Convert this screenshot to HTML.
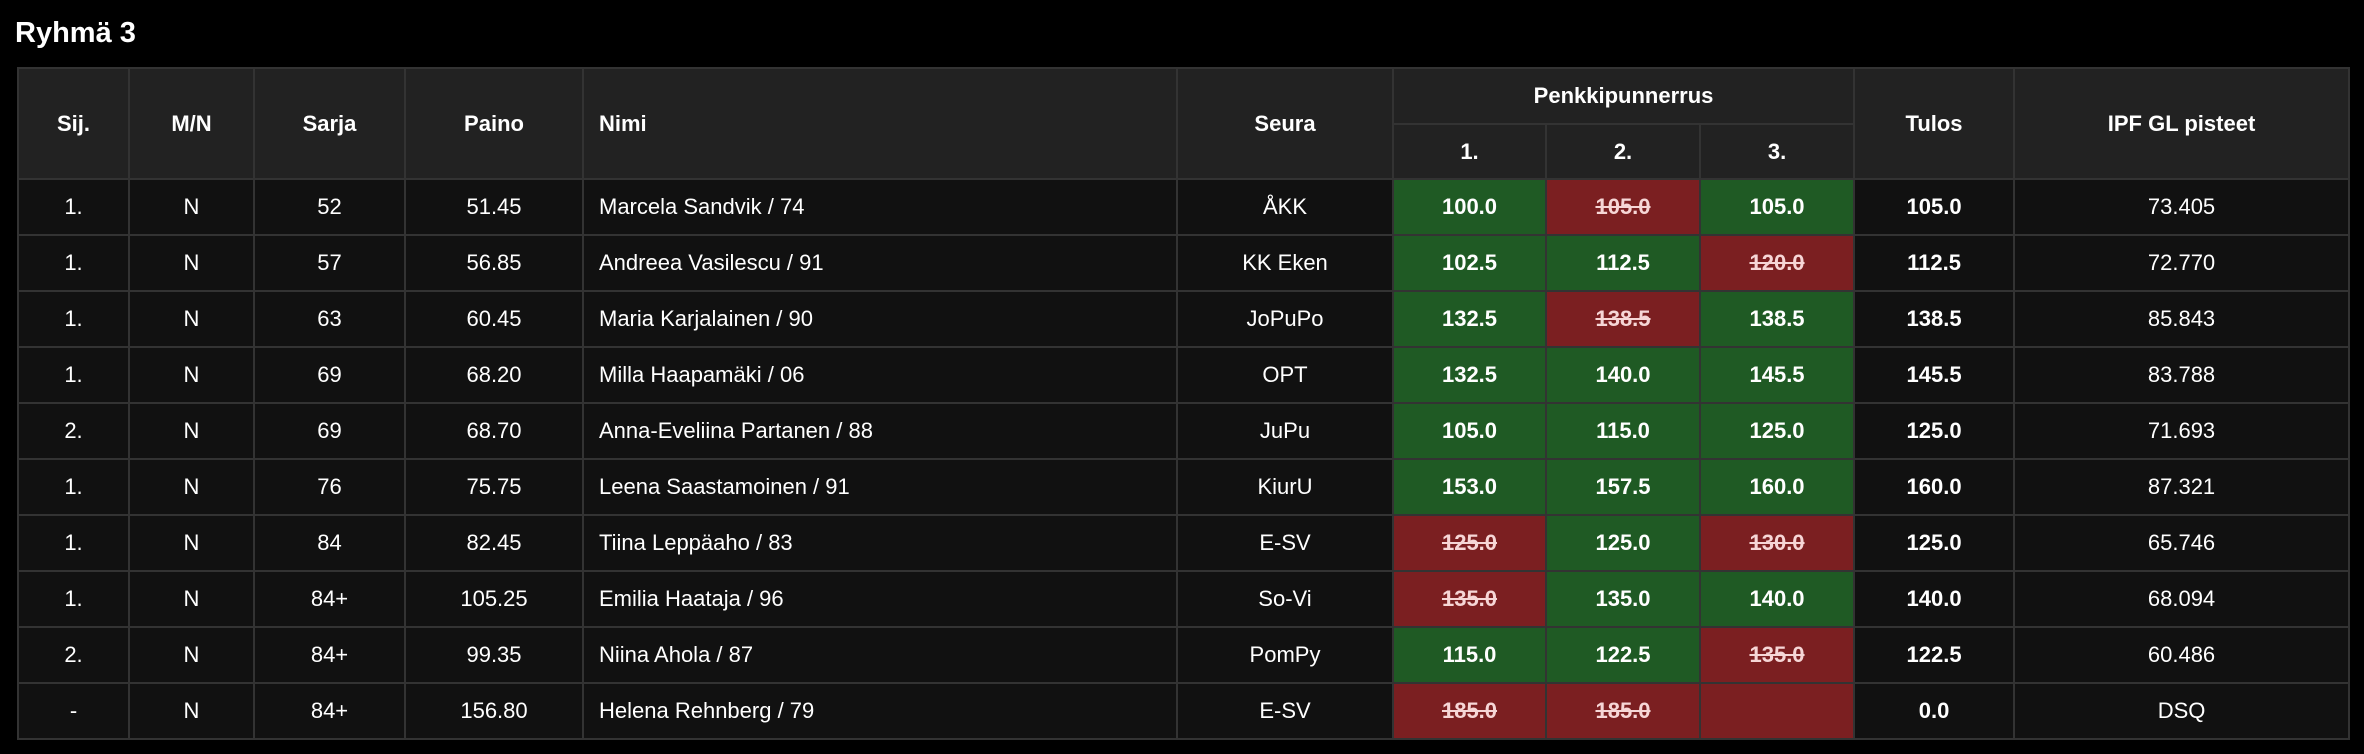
<!DOCTYPE html>
<html><head><meta charset="utf-8"><style>
html,body{margin:0;padding:0;background:#000;width:2364px;height:754px;overflow:hidden;font-family:"Liberation Sans",Arial,sans-serif;color:#fff}
h2{position:absolute;left:15px;top:17px;margin:0;font-size:29px;font-weight:bold}
table{position:absolute;left:17px;top:67px;border-collapse:collapse;table-layout:fixed;width:2331px}
td,th{border:2px solid #333;text-align:center;font-size:22px;padding:0;overflow:hidden;white-space:nowrap}
th{background:#222;font-weight:bold}
td{background:#111;height:54px}
.n{text-align:left;padding-left:15px}
.g{background:#1f5a24;font-weight:bold}
.r{background:#7b1f21;font-weight:bold;color:#f6d6d6;text-decoration:line-through}
.b{font-weight:bold}
</style></head><body>
<h2>Ryhmä 3</h2>
<table>
<colgroup><col style="width:111px"><col style="width:125px"><col style="width:151px"><col style="width:178px"><col style="width:594px"><col style="width:216px"><col style="width:153px"><col style="width:154px"><col style="width:154px"><col style="width:160px"><col style="width:335px"></colgroup>
<tr style="height:56px"><th rowspan="2">Sij.</th><th rowspan="2">M/N</th><th rowspan="2">Sarja</th><th rowspan="2">Paino</th><th rowspan="2" class="n">Nimi</th><th rowspan="2">Seura</th><th colspan="3">Penkkipunnerrus</th><th rowspan="2">Tulos</th><th rowspan="2">IPF GL pisteet</th></tr>
<tr style="height:55px"><th>1.</th><th>2.</th><th>3.</th></tr>
<tr><td>1.</td><td>N</td><td>52</td><td>51.45</td><td class="n">Marcela Sandvik / 74</td><td>ÅKK</td><td class="g">100.0</td><td class="r">105.0</td><td class="g">105.0</td><td class="b">105.0</td><td>73.405</td></tr>
<tr><td>1.</td><td>N</td><td>57</td><td>56.85</td><td class="n">Andreea Vasilescu / 91</td><td>KK Eken</td><td class="g">102.5</td><td class="g">112.5</td><td class="r">120.0</td><td class="b">112.5</td><td>72.770</td></tr>
<tr><td>1.</td><td>N</td><td>63</td><td>60.45</td><td class="n">Maria Karjalainen / 90</td><td>JoPuPo</td><td class="g">132.5</td><td class="r">138.5</td><td class="g">138.5</td><td class="b">138.5</td><td>85.843</td></tr>
<tr><td>1.</td><td>N</td><td>69</td><td>68.20</td><td class="n">Milla Haapamäki / 06</td><td>OPT</td><td class="g">132.5</td><td class="g">140.0</td><td class="g">145.5</td><td class="b">145.5</td><td>83.788</td></tr>
<tr><td>2.</td><td>N</td><td>69</td><td>68.70</td><td class="n">Anna-Eveliina Partanen / 88</td><td>JuPu</td><td class="g">105.0</td><td class="g">115.0</td><td class="g">125.0</td><td class="b">125.0</td><td>71.693</td></tr>
<tr><td>1.</td><td>N</td><td>76</td><td>75.75</td><td class="n">Leena Saastamoinen / 91</td><td>KiurU</td><td class="g">153.0</td><td class="g">157.5</td><td class="g">160.0</td><td class="b">160.0</td><td>87.321</td></tr>
<tr><td>1.</td><td>N</td><td>84</td><td>82.45</td><td class="n">Tiina Leppäaho / 83</td><td>E-SV</td><td class="r">125.0</td><td class="g">125.0</td><td class="r">130.0</td><td class="b">125.0</td><td>65.746</td></tr>
<tr><td>1.</td><td>N</td><td>84+</td><td>105.25</td><td class="n">Emilia Haataja / 96</td><td>So-Vi</td><td class="r">135.0</td><td class="g">135.0</td><td class="g">140.0</td><td class="b">140.0</td><td>68.094</td></tr>
<tr><td>2.</td><td>N</td><td>84+</td><td>99.35</td><td class="n">Niina Ahola / 87</td><td>PomPy</td><td class="g">115.0</td><td class="g">122.5</td><td class="r">135.0</td><td class="b">122.5</td><td>60.486</td></tr>
<tr><td>-</td><td>N</td><td>84+</td><td>156.80</td><td class="n">Helena Rehnberg / 79</td><td>E-SV</td><td class="r">185.0</td><td class="r">185.0</td><td class="r"></td><td class="b">0.0</td><td>DSQ</td></tr>
</table>
</body></html>
